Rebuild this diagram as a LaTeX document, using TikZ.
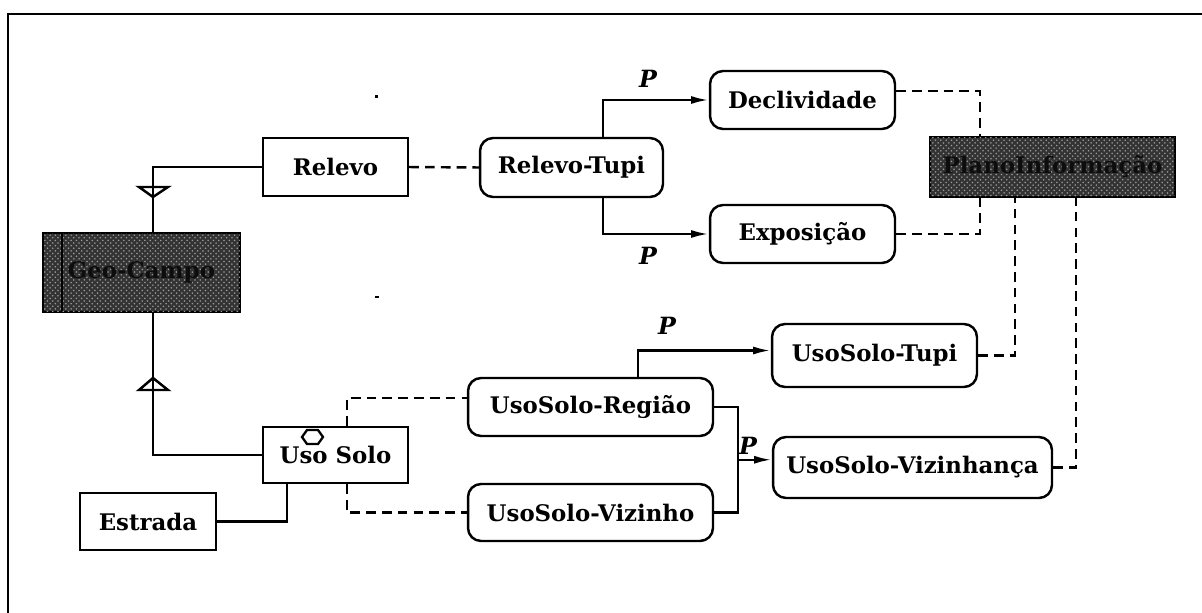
\documentclass[tikz,border=0pt]{standalone}
\usepackage{fontspec}
\setmainfont{DejaVu Serif}
\usetikzlibrary{arrows.meta,patterns,calc}
\begin{document}
\begin{tikzpicture}[x=0.02cm,y=-0.02cm,
  lbl/.style={font=\bfseries\fontsize{13}{15}\selectfont},
  rbox/.style={lbl,draw,line width=1.4pt,inner sep=0pt},
  rrbox/.style={rbox,rounded corners=0.26cm},
  dbox/.style={rbox,fill=black!80,postaction={pattern=crosshatch dots,pattern color=black!40},text=black!95},
  conn/.style={line width=1.4pt},
  arr/.style={line width=1.4pt,-{Latex[length=10pt,width=4.5pt]}},
  dsh/.style={line width=1.4pt,dash pattern=on 5.5pt off 3.5pt},
  plbl/.style={font=\bfseries\itshape\fontsize{13.5}{15}\selectfont}]
\useasboundingbox (0,0) rectangle (1202,612);
% frame
\draw[line width=1.6pt] (8,640) -- (8,14) -- (1230,14);
% nodes
\node[dbox,minimum width=3.94cm,minimum height=1.58cm] (geo) at (141.5,272.5) {Geo-Campo};
\draw[line width=1pt] (62,234) -- (62,311);
\node[rbox,minimum width=2.9cm,minimum height=1.16cm] (relevo) at (335.5,167) {Relevo};
\node[rrbox,minimum width=3.66cm,minimum height=1.18cm] (rtupi) at (571.5,167.5) {Relevo-Tupi};
\node[rrbox,minimum width=3.7cm,minimum height=1.16cm] (decl) at (802.5,100) {Declividade};
\node[rrbox,minimum width=3.7cm,minimum height=1.16cm] (expo) at (802.5,234) {Exposição};
\node[dbox,minimum width=4.9cm,minimum height=1.2cm] (plano) at (1052.5,167) {PlanoInformação};
\node[rbox,minimum width=2.9cm,minimum height=1.12cm] (usosolo) at (335.5,455) {\raisebox{-0.3ex}{Uso Solo}};
\node[rbox,minimum width=2.72cm,minimum height=1.14cm] (estrada) at (148,521.5) {Estrada};
\node[rrbox,minimum width=4.9cm,minimum height=1.16cm] (regiao) at (590.5,407) {UsoSolo-Região};
\node[rrbox,minimum width=4.9cm,minimum height=1.14cm] (vizinho) at (590.5,512.5) {UsoSolo-Vizinho};
\node[rrbox,minimum width=4.1cm,minimum height=1.26cm] (usotupi) at (874.5,355.5) {UsoSolo-Tupi};
\node[rrbox,minimum width=5.58cm,minimum height=1.22cm] (vizinhanca) at (912.5,467.5) {UsoSolo-Vizinhança};
% hexagon in Uso Solo
\draw[line width=1.3pt] (302,437) -- (307,430) -- (318,430) -- (323,437) -- (318,444) -- (307,444) -- cycle;
% Geo-Campo links
\draw[conn] (relevo.west) -| ([xshift=0.23cm]geo.north);
\draw[conn] (139,187) -- (168,187) -- (153,197) -- cycle;
\draw[conn] ([xshift=0.23cm]geo.south) |- (usosolo.west);
\draw[conn] (139,390) -- (168,390) -- (153,378) -- cycle;
\draw[conn] (estrada.east) -| ([xshift=-0.97cm]usosolo.south);
% dashed links from Uso Solo
\draw[dsh] ([xshift=0.23cm]usosolo.north) |- ([yshift=0.18cm]regiao.west);
\draw[dsh] ([xshift=0.23cm]usosolo.south) |- (vizinho.west);
% Regiao / Vizinho to Vizinhanca
\coordinate (mj) at ($($(regiao.east)!0.5!(vizinho.east)$)+(24,0)$);
\draw[conn] (regiao.east) -| (mj) |- (vizinho.east);
\draw[arr] (mj) -- (mj -| vizinhanca.west);
\node[plbl] (p4) at (748,446) {P};
% Regiao to UsoSolo-Tupi
\draw[arr] ([xshift=0.95cm]regiao.north) |- ([yshift=0.1cm]usotupi.west);
\node[plbl] (p3) at (667,326) {P};
% Relevo
\draw[dsh] (relevo.east) -- (rtupi.west);
\draw[arr] ([xshift=0.63cm]rtupi.north) |- (decl.west);
\draw[arr] ([xshift=0.63cm]rtupi.south) |- (expo.west);
\node[plbl] (p1) at (648,79) {P};
\node[plbl] (p2) at (648,256) {P};
% to PlanoInformacao
\draw[dsh] ([yshift=0.18cm]decl.east) -| ([xshift=-1.45cm]plano.north);
\draw[dsh] (expo.east) -| ([xshift=-1.45cm]plano.south);
\draw[dsh] (usotupi.east) -| ([xshift=-0.75cm]plano.south);
\draw[dsh] (vizinhanca.east) -| ([xshift=0.47cm]plano.south);
% specks
\fill (375,95) rectangle (378,98);
\fill (375,296) rectangle (379,298);
\end{tikzpicture}
\end{document}
